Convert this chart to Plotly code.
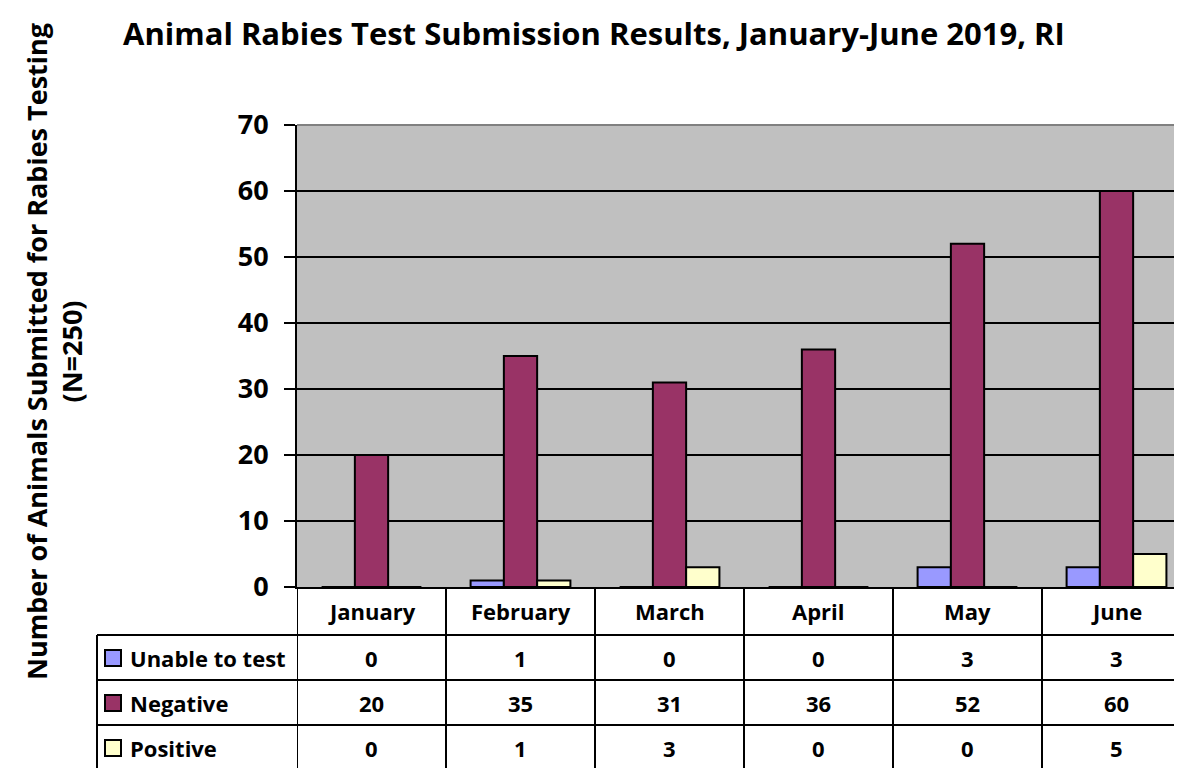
import plotly.graph_objects as go

months = ["January", "February", "March", "April", "May", "June"]
series_names = ["Unable to test", "Negative", "Positive"]
unable = [0, 1, 0, 0, 3, 3]
negative = [20, 35, 31, 36, 52, 60]
positive = [0, 1, 3, 0, 0, 5]
series_values = [unable, negative, positive]
colors = ["#9999FF", "#993366", "#FFFFCC"]
y_ticks = [0, 10, 20, 30, 40, 50, 60, 70]

OFF = 8  # page body margin
W, H = 1182 - OFF, 768 - OFF
L, T = 297 - OFF, 125 - OFF
PLOT_BOTTOM = 587 - OFF
R, B = 0, H - PLOT_BOTTOM
PW, PH = W - L - R, H - T - B
FONT = "Open Sans"


def px_x(p):
    """page pixel x -> paper x"""
    return (p - OFF - L) / PW


def px_y(p):
    """page pixel y -> paper y"""
    return (H - B - (p - OFF)) / PH


x_idx = list(range(len(months)))

fig = go.Figure()
for name, vals, col in zip(series_names, series_values, colors):
    fig.add_trace(go.Bar(
        x=x_idx, y=vals, name=name,
        marker=dict(color=col, line=dict(color="black", width=2)),
        showlegend=False, hoverinfo="x+y+name",
    ))

unit = 149.0
x_max = -0.5 + PW / unit

fig.update_layout(
    width=W, height=H,
    margin=dict(l=L, r=R, t=T, b=B, pad=0),
    paper_bgcolor="white", plot_bgcolor="#C0C0C0",
    barmode="group", bargap=0.33, bargroupgap=0,
    font=dict(family=FONT, color="black"),
    xaxis=dict(range=[-0.5, x_max], showticklabels=False, showgrid=False,
               zeroline=False, showline=True, linecolor="black", linewidth=2,
               ticks=""),
    yaxis=dict(range=[0, 70], tickvals=y_ticks, showgrid=True,
               gridcolor="black", gridwidth=2, zeroline=False,
               showline=True, linecolor="black", linewidth=2,
               ticks="outside", ticklen=11, tickwidth=2, tickcolor="black",
               ticklabelstandoff=10,
               tickfont=dict(family=FONT, size=27, color="black", weight="bold")),
)

shapes = []
shapes.append(dict(type="line", xref="paper", yref="paper", x0=0, x1=1, y0=1, y1=1,
                   line=dict(color="#808080", width=2)))

row_tops = [587, 635, 680, 725]
bottom = 772
for i in range(len(months) + 1):
    shapes.append(dict(type="line", xref="x", yref="paper",
                       x0=i - 0.5, x1=i - 0.5, y0=px_y(587), y1=px_y(bottom),
                       line=dict(color="black", width=2)))
shapes.append(dict(type="line", xref="paper", yref="paper",
                   x0=px_x(97), x1=px_x(97), y0=px_y(635), y1=px_y(bottom),
                   line=dict(color="black", width=2)))
for yy in row_tops[1:]:
    shapes.append(dict(type="line", xref="paper", yref="paper",
                       x0=px_x(97), x1=1, y0=px_y(yy), y1=px_y(yy),
                       line=dict(color="black", width=2)))

annotations = []
cell_font = dict(family=FONT, size=22, color="black", weight="bold")
for i, m in enumerate(months):
    annotations.append(dict(x=i, y=px_y(611), xref="x", yref="paper", text=m,
                            showarrow=False, font=cell_font,
                            xanchor="center", yanchor="middle"))
row_centers = [658, 703, 748]
for r, (name, vals, col) in enumerate(zip(series_names, series_values, colors)):
    yc = row_centers[r]
    for i, v in enumerate(vals):
        annotations.append(dict(x=i, y=px_y(yc), xref="x", yref="paper", text=str(v),
                                showarrow=False, font=cell_font,
                                xanchor="center", yanchor="middle"))
    shapes.append(dict(type="rect", xref="paper", yref="paper",
                       x0=px_x(105), x1=px_x(121), y0=px_y(yc + 8), y1=px_y(yc - 8),
                       fillcolor=col, line=dict(color="black", width=2)))
    annotations.append(dict(x=px_x(128), y=px_y(yc), xref="paper", yref="paper",
                            text=name, showarrow=False, font=cell_font,
                            xanchor="left", yanchor="middle"))

annotations.append(dict(x=px_x(594), y=px_y(33), xref="paper", yref="paper",
                        text="Animal Rabies Test Submission Results, January-June 2019, RI",
                        showarrow=False, xanchor="center", yanchor="middle",
                        font=dict(family=FONT, size=31, color="black", weight="bold")))
annotations.append(dict(x=px_x(54), y=px_y(352), xref="paper", yref="paper",
                        text="Number of Animals Submitted for Rabies Testing<br>(N=250)",
                        showarrow=False, textangle=-90, xanchor="center", yanchor="middle",
                        font=dict(family=FONT, size=27, color="black", weight="bold")))

fig.update_layout(shapes=shapes, annotations=annotations)
fig.write_html("out.html")
